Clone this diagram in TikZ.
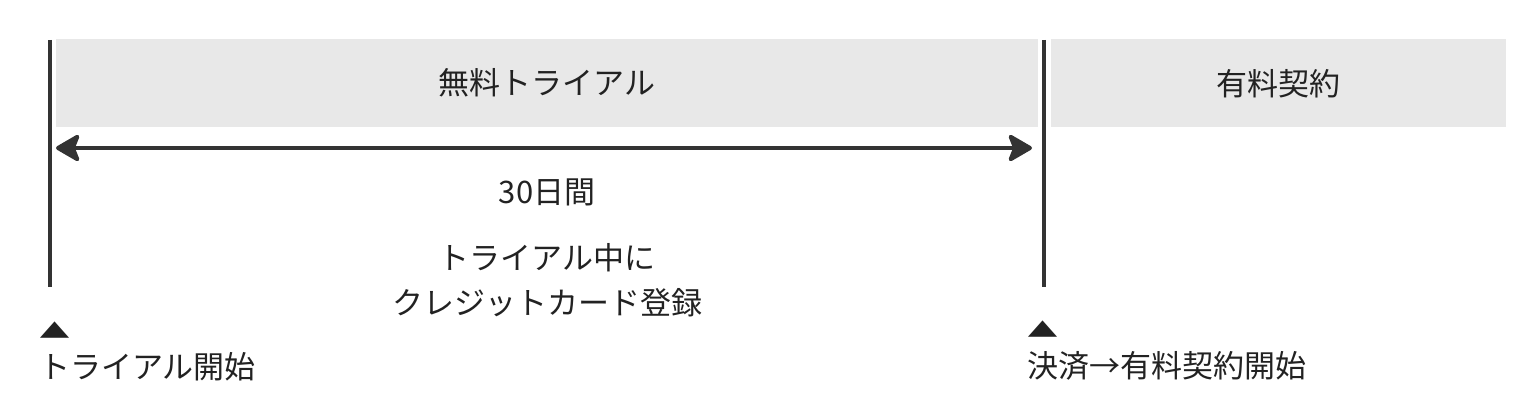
\documentclass[tikz,border=0pt]{standalone}
\usepackage{fontspec}
\setmainfont{Noto Sans CJK JP}
\usepackage{tikz}
\usetikzlibrary{arrows.meta,positioning}
\definecolor{bandgray}{HTML}{E8E8E8}
\definecolor{linegray}{HTML}{333333}
\definecolor{textblack}{HTML}{222222}
\tikzstyle{band}=[fill=bandgray, minimum height=87.5pt, inner sep=0pt, text=textblack]
\tikzstyle{txt}=[text=textblack, align=center, inner sep=0pt]
\tikzstyle{milestone}=[text=textblack, align=left, inner sep=0pt, anchor=west, font=\fontsize{31}{40}\selectfont]
\tikzstyle{boundary}=[draw=linegray, line width=4pt]

\begin{document}
\begin{tikzpicture}[x=1pt,y=-1pt,>={Stealth[length=27pt,width=31pt,inset=6pt,round]},font=\fontsize{31}{45}\selectfont]
                        \useasboundingbox (0,0) rectangle (1531,417);
                        \node [band, minimum width=982pt] (trial) at (547,83.25) {無料トライアル};
                        \node [band, minimum width=455pt] (paid) at (1278.5,83.25) {有料契約};
                        \coordinate (start top) at (50,40);
                        \coordinate (start bottom) at (50,287);
                        \coordinate (pay top) at (1044,40);
                        \coordinate (pay bottom) at (1044,287);
                        \coordinate (period left) at (56,148);
                        \coordinate (period right) at (1032,148);
                        \path[boundary]
                        (start top) edge node {} (start bottom)
                        (pay top) edge node {} (pay bottom);
                        \draw[<->,boundary,fill=linegray] (period left) -- (period right);
                        \node [txt] (days) at (547,192) {30日間};
                        \node [txt] (note) [below=37pt of days] {トライアル中に\\クレジットカード登録};
                        \node [milestone] (begin) at (39,351) {\scalebox{1}[0.65]{▲}\\トライアル開始};
                        \node [milestone] (switch) at (1027,351) {\scalebox{1}[0.65]{▲}\\決済→有料契約開始};
                    \end{tikzpicture}
\end{document}
